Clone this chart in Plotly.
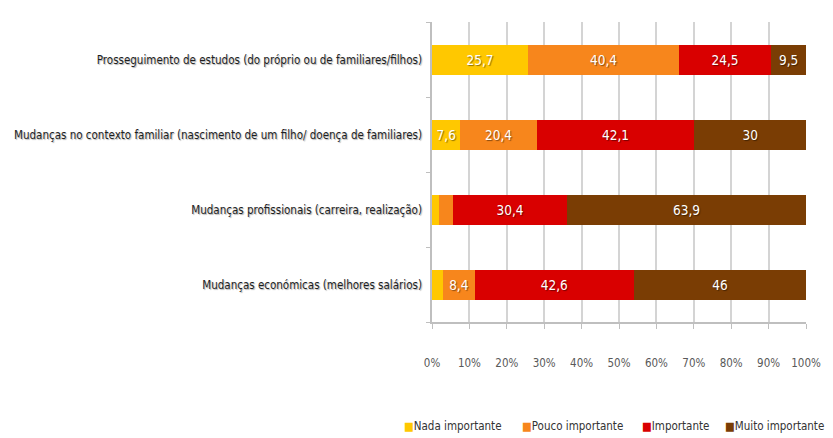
import plotly.graph_objects as go

categories = [
    "Prosseguimento de estudos (do próprio ou de familiares/filhos)",
    "Mudanças no contexto familiar (nascimento de um filho/ doença de familiares)",
    "Mudanças profissionais (carreira, realização)",
    "Mudanças económicas (melhores salários)",
]
series_names = ["Nada importante", "Pouco importante", "Importante", "Muito importante"]
nada = [25.7, 7.6, 2.0, 3.0]
pouco = [40.4, 20.4, 3.7, 8.4]
importante = [24.5, 42.1, 30.4, 42.6]
muito = [9.5, 30, 63.9, 46]
x_ticks = [0, 10, 20, 30, 40, 50, 60, 70, 80, 90, 100]

COLORS = ["#FFC800", "#F7861C", "#D90000", "#7A3D04"]
FONT = "DejaVu Sans Condensed"

# page margin is removed in post_script, so figure pixels == window pixels
W, H = 833, 438
L, R, T, B = 432, W - 806, 22, H - 322
PW, PH = W - L - R, H - T - B


def label(v):
    # small segments are left unlabelled, as in the source chart
    return ("%g" % v).replace(".", ",") if v >= 5 else ""


fig = go.Figure()
for name, vals, col in zip(series_names, [nada, pouco, importante, muito], COLORS):
    fig.add_trace(go.Bar(
        y=categories, x=vals, name=name, orientation="h",
        marker=dict(color=col, line=dict(width=0)),
        text=[label(v) for v in vals], textposition="inside",
        insidetextanchor="middle", textangle=0, constraintext="none",
        textfont=dict(family=FONT, size=13.5, color="white",
                      shadow="1px 1px 1px rgba(0,0,0,0.45)"),
    ))

# legend drawn as text with coloured squares to keep it compact
legend_px = [402, 520, 640, 723]
for name, col, px in zip(series_names, COLORS, legend_px):
    fig.add_annotation(
        x=(px - L) / PW, y=(H - B - 426) / PH,
        xref="paper", yref="paper",
        xanchor="left", yanchor="middle", showarrow=False,
        text=f"<span style='color:{col}'>■</span>{name}",
        font=dict(family=FONT, size=11.5, color="#333333"),
    )

fig.update_layout(
    width=W, height=H,
    barmode="stack", bargap=0.6, showlegend=False,
    separators=",.",
    paper_bgcolor="white", plot_bgcolor="white",
    margin=dict(l=L, r=R, t=T, b=B),
    font=dict(family=FONT, size=12, color="#333333"),
)
fig.update_xaxes(
    range=[0, 100], tickvals=x_ticks, ticktext=[f"{t}%" for t in x_ticks],
    tickangle=0, automargin=False,
    showgrid=True, gridcolor="#D4D4D4", gridwidth=1.5,
    showline=True, linecolor="#BFBFBF", linewidth=1.5,
    ticks="outside", ticklen=5, tickcolor="#BFBFBF",
    ticklabelstandoff=24, tickfont=dict(color="#595959", size=11.5),
    zeroline=False,
)
fig.update_yaxes(
    categoryorder="array", categoryarray=categories[::-1], automargin=False,
    showline=True, linecolor="#BFBFBF", linewidth=1.5,
    ticks="outside", ticklen=4, tickcolor="#BFBFBF", tickson="boundaries",
    ticklabelstandoff=6,
    tickfont=dict(color="#1f1f1f", size=11.5, shadow="1px 1px 1px #b0b0b0"),
    showgrid=False,
)

fig.write_html("out.html", config={"displayModeBar": False},
               post_script="document.body.style.margin='0';")
